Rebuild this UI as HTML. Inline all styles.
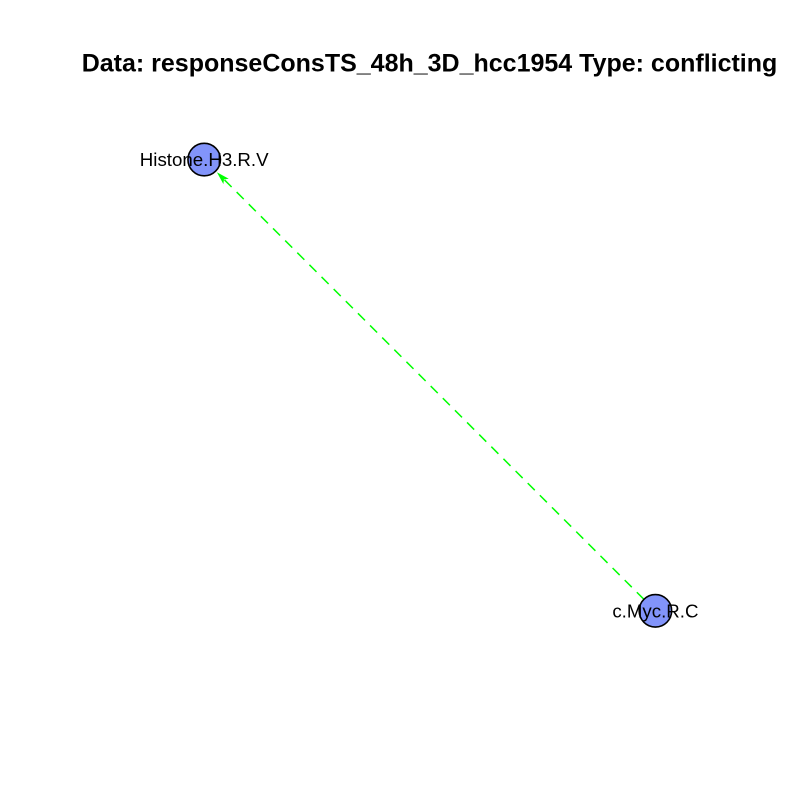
<!DOCTYPE html>
<html>
<head>
<meta charset="utf-8">
<title>Data: responseConsTS_48h_3D_hcc1954 Type: conflicting</title>
<style>
html,body{margin:0;padding:0;background:#fff;}
svg{display:block;}
text{font-family:"Liberation Sans",Arial,sans-serif;fill:#000;}
</style>
</head>
<body>
<svg id="chart" xmlns="http://www.w3.org/2000/svg" width="800" height="800" viewBox="0 0 800 800">
<rect width="800" height="800" fill="#fff"/>
<text x="429.5" y="71.5" text-anchor="middle" font-size="25" font-weight="bold">Data: responseConsTS_48h_3D_hcc1954 Type: conflicting</text>
<g id="edges"></g>
<g id="nodes"></g>
<g id="labels"></g>
</svg>
<script>
const nodeNames = ["Histone.H3.R.V", "c.Myc.R.C"];
const nodeX = [-1, 1];
const nodeY = [1, -1];
const edgeFrom = [1];
const edgeTo = [0];

const NS = "http://www.w3.org/2000/svg";
const sx = v => 429.8 + v * 225.6;
const sy = v => 385.2 - v * 225.6;
const R = 16.25;

const edgesG = document.getElementById("edges");
const nodesG = document.getElementById("nodes");
const labelsG = document.getElementById("labels");

edgeFrom.forEach((f, i) => {
  const t = edgeTo[i];
  const x1 = sx(nodeX[f]), y1 = sy(nodeY[f]);
  const x2 = sx(nodeX[t]), y2 = sy(nodeY[t]);
  const len = Math.hypot(x2 - x1, y2 - y1);
  const ux = (x2 - x1) / len, uy = (y2 - y1) / len;
  const tipX = x2 - ux * (R + 1.7), tipY = y2 - uy * (R + 1.7);
  const baseX = tipX - ux * 13, baseY = tipY - uy * 13;
  const notchX = tipX - ux * 10, notchY = tipY - uy * 10;
  const line = document.createElementNS(NS, "line");
  
  
  line.setAttribute("x1", x1 + ux * R);
  line.setAttribute("y1", y1 + uy * R);
  line.setAttribute("x2", notchX);
  line.setAttribute("y2", notchY);
  line.setAttribute("stroke", "#00ff00");
  line.setAttribute("stroke-width", "1.5");
  line.setAttribute("stroke-dasharray", "10 7.15");
  edgesG.appendChild(line);
  const head = document.createElementNS(NS, "polygon");
  
  
  const w = 3.8;
  const px = -uy * w, py = ux * w;
  head.setAttribute("points",
    tipX + "," + tipY + " " +
    (baseX + px) + "," + (baseY + py) + " " +
    notchX + "," + notchY + " " +
    (baseX - px) + "," + (baseY - py));
  head.setAttribute("fill", "#00ff00");
  edgesG.appendChild(head);
});

nodeNames.forEach((name, i) => {
  const c = document.createElementNS(NS, "circle");
  
  
  c.setAttribute("cx", sx(nodeX[i]));
  c.setAttribute("cy", sy(nodeY[i]));
  c.setAttribute("r", R);
  c.setAttribute("fill", "#8294fa");
  c.setAttribute("stroke", "#000");
  c.setAttribute("stroke-width", "1.6");
  nodesG.appendChild(c);
  const l = document.createElementNS(NS, "text");
  
  
  l.setAttribute("x", sx(nodeX[i]));
  l.setAttribute("y", sy(nodeY[i]) + 6.5);
  l.setAttribute("text-anchor", "middle");
  l.setAttribute("font-size", "18.7");
  l.textContent = name;
  labelsG.appendChild(l);
});
</script>
</body>
</html>
